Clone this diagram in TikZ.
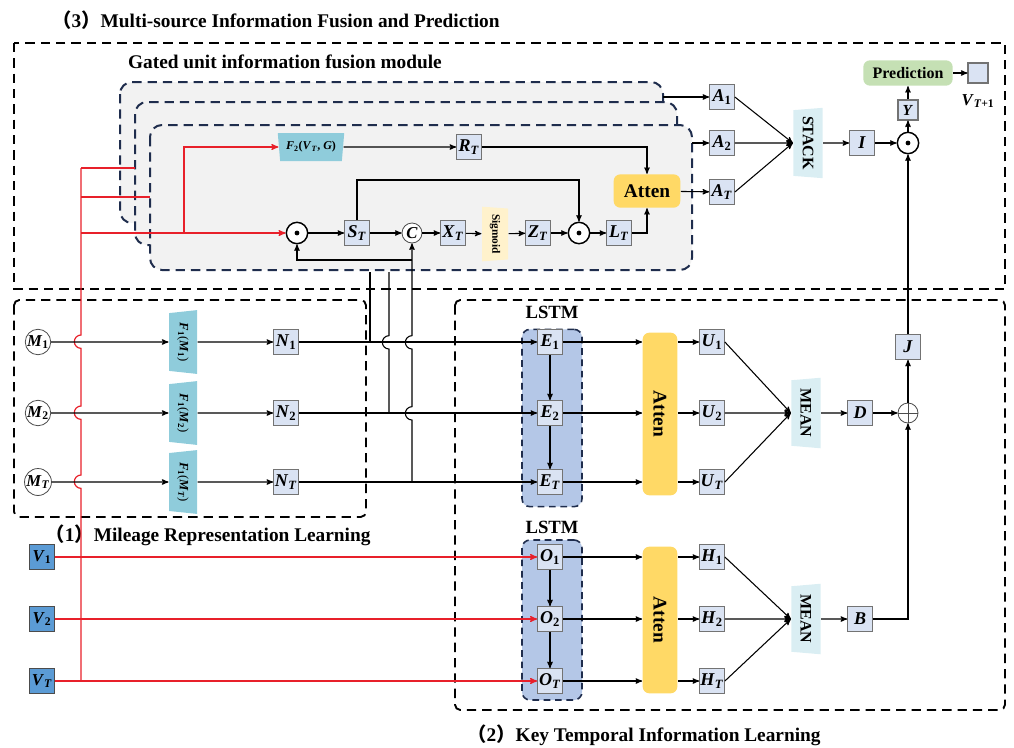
\documentclass[tikz,border=0pt]{standalone}
\usepackage{fontspec}
\setmainfont{Liberation Serif}
\newfontfamily\cjk{Noto Sans CJK SC}
\usepackage{tikz}
\usetikzlibrary{positioning}
\usetikzlibrary{arrows,calc,shapes.geometric}
\definecolor{boxblue}{HTML}{DAE3F3}
\definecolor{trapblue}{HTML}{8FCCDB}
\definecolor{paleblue}{HTML}{DAEEF3}
\definecolor{attyellow}{HTML}{FFD966}
\definecolor{sigyellow}{HTML}{FFF2CC}
\definecolor{predgreen}{HTML}{C5E0B4}
\definecolor{lstmblue}{HTML}{B4C7E7}
\definecolor{vblue}{HTML}{5B9BD5}
\definecolor{navy}{HTML}{1F2D4D}
\definecolor{layergray}{HTML}{F2F2F2}
\definecolor{wirered}{HTML}{E8202A}
\newcommand{\vx}[2]{\textbf{\textit{#1}\textsubscript{#2}}}
\newcommand{\sT}{\textit{T}}
\newcommand{\lp}{{\cjk （}}
\newcommand{\rp}{{\cjk ）}}
\tikzstyle{ttl}=[font=\fontsize{14.5}{16}\selectfont\bfseries,inner sep=0pt]
\tikzstyle{lab}=[font=\fontsize{14}{16}\selectfont\bfseries,inner sep=0pt]
\tikzstyle{sect}=[draw=black,line width=1.4pt,dash pattern=on 7pt off 4.5pt]
\tikzstyle{layer}=[draw=navy,fill=layergray,line width=1.5pt,dash pattern=on 7pt off 4.5pt,rounded corners=9pt]
\tikzstyle{vb}=[rectangle,draw=black!55,fill=boxblue,minimum size=18.5pt,inner sep=0pt,font=\fontsize{13.5}{13.5}\selectfont]
\tikzstyle{vbs}=[vb,minimum size=15pt,font=\fontsize{11.5}{11.5}\selectfont]
\tikzstyle{vin}=[vb,fill=vblue,draw=black!70,font=\fontsize{12.5}{12.5}\selectfont]
\tikzstyle{mc}=[circle,draw=black!70,line width=0.6pt,fill=white,minimum size=18pt,inner sep=0pt,font=\fontsize{12.5}{12.5}\selectfont]
\tikzstyle{cat}=[circle,draw=black!70,line width=0.6pt,fill=white,minimum size=15pt,inner sep=0pt,font=\fontsize{12.5}{12.5}\selectfont]
\tikzstyle{gate}=[circle,draw,line width=1.1pt,fill=white,minimum size=16pt,inner sep=0pt,
    path picture={\fill[black] (path picture bounding box.center) circle (1.8pt);}]
\tikzstyle{addc}=[circle,draw=black!70,line width=0.6pt,fill=white,minimum size=15pt,inner sep=0pt,
    path picture={\draw[black!70,line width=0.6pt] (path picture bounding box.north)--(path picture bounding box.south)
      (path picture bounding box.west)--(path picture bounding box.east);}]
\tikzstyle{ftrap}=[trapezium,trapezium stretches=true,trapezium angle=100,fill=trapblue,inner sep=0pt,
    rotate=-90,minimum width=48pt,minimum height=21pt,font=\fontsize{9.5}{9.5}\selectfont]
\tikzstyle{htrap}=[trapezium,trapezium stretches=true,trapezium angle=100,fill=trapblue,inner sep=0pt,
    minimum width=50pt,minimum height=21pt,font=\fontsize{9}{9}\selectfont]
\tikzstyle{ptrap}=[ftrap,fill=paleblue,minimum width=53pt,minimum height=22pt,font=\fontsize{12}{12}\selectfont\bfseries]
\tikzstyle{strap}=[ftrap,trapezium angle=82,fill=sigyellow,minimum width=41pt,minimum height=19.5pt,font=\fontsize{8.5}{8.5}\selectfont\bfseries]
\tikzstyle{atth}=[rectangle,rounded corners=5pt,fill=attyellow,minimum width=50pt,minimum height=25pt,font=\fontsize{14.5}{14.5}\selectfont\bfseries]
\tikzstyle{attv}=[atth,rotate=-90,minimum height=26pt]
\tikzstyle{pred}=[rectangle,rounded corners=5pt,fill=predgreen,minimum width=67pt,minimum height=19pt,font=\fontsize{12}{12}\selectfont\bfseries]
\tikzstyle{lstm}=[rectangle,rounded corners=6pt,draw=navy,fill=lstmblue,line width=1.2pt,dash pattern=on 5pt off 3.5pt,minimum width=45pt]
\tikzstyle{wire}=[draw=wirered,line width=0.9pt]

\begin{document}
\begin{tikzpicture}[x=0.75pt,y=-0.75pt,>=stealth',line width=0.8pt]
\useasboundingbox (0,0) rectangle (1014,747);

% (3) fusion and prediction
\node[ttl] (t3) at (276,20) {\lp 3\rp Multi-source Information Fusion and Prediction};
\draw[sect] (14,43) rectangle (1005,289);
\node[ttl] (tg) at (285,62) {Gated unit information fusion module};
\draw[layer] (120,82) rectangle (663,223);
\draw[layer] (135,102) rectangle (677,245);
\draw[layer] (150,125) rectangle (692,270);

\node[htrap] (f2) at (311,147) {\textbf{\textit{F}\textsubscript{2}(\textit{V}\textsubscript{\textit{T}}, \textit{G})}};
\node[vb] (rt) at (469,147) {\vx{R}{\sT}};
\node[gate] (g1) at (297,233) {};
\node[vb] (st) at (357,233) {\vx{S}{\sT}};
\node[cat] (cc) at (412,233) {\textbf{\textit{C}}};
\node[vb] (xt) at (453,233) {\vx{X}{\sT}};
\node[strap] (sig) at (495,234) {Sigmoid};
\node[vb] (zt) at (538,233) {\vx{Z}{\sT}};
\node[gate] (g2) at (579,233) {};
\node[vb] (lt) at (619,233) {\vx{L}{\sT}};
\node[atth] (att) at (647,191) {Atten};

\node[vb] (a1) at (722,97) {\vx{A}{1}};
\node[vb] (a2) at (722,143) {\vx{A}{2}};
\node[vb] (a3) at (722,192) {\vx{A}{\sT}};
\node[ptrap] (stack) at (808,143) {STACK};
\node[vb] (ii) at (862,143) {\textbf{\textit{I}}};
\node[gate] (g3) at (908,143) {};
\node[vbs] (yy) at (908,110) {\textbf{\textit{Y}}};
\node[pred] (pred) at (908,73) {Prediction};
\node[vbs] (vnext) at (978,73) {};
\node[font=\fontsize{12.5}{12.5}\selectfont] (vlab) at (978,101) {\vx{V}{\sT+1}};

% (1) mileage representation
\draw[sect,rounded corners=4pt] (14,300) rectangle (366,517);
\node[ttl] (t1) at (208,535) {\lp 1\rp Mileage Representation Learning};
\node[mc] (m1) at (38,342) {\vx{M}{1}};
\node[mc] (m2) at (38,413) {\vx{M}{2}};
\node[mc] (m3) at (38,482) {\vx{M}{\sT}};
\node[ftrap] (fm1) at (183,342) {\vx{F}{1}(\vx{M}{1})};
\node[ftrap] (fm2) at (183,413) {\vx{F}{1}(\vx{M}{2})};
\node[ftrap] (fm3) at (183,482) {\vx{F}{1}(\vx{M}{\sT})};
\node[vb] (n1) at (286,342) {\vx{N}{1}};
\node[vb] (n2) at (286,413) {\vx{N}{2}};
\node[vb] (n3) at (286,482) {\vx{N}{\sT}};
\node[vin] (v1) at (42,557) {\vx{V}{1}};
\node[vin] (v2) at (42,619) {\vx{V}{2}};
\node[vin] (v3) at (42,681) {\vx{V}{\sT}};

% (2) key temporal information
\draw[sect,rounded corners=4pt] (455,300) rectangle (1005,710);
\node[ttl] (t2) at (644,735) {\lp 2\rp Key Temporal Information Learning};
\node[lstm,minimum height=133pt] (lstm1) at (552,418) {};
\node[lstm,minimum height=120pt] (lstm2) at (552,620) {};
\node[lab] at (552,312) {LSTM};
\node[lab] at (552,527) {LSTM};
\node[vb] (e1) at (550,342) {\vx{E}{1}};
\node[vb] (e2) at (550,413) {\vx{E}{2}};
\node[vb] (e3) at (550,482) {\vx{E}{\sT}};
\node[vb] (o1) at (550,557) {\vx{O}{1}};
\node[vb] (o2) at (550,619) {\vx{O}{2}};
\node[vb] (o3) at (550,681) {\vx{O}{\sT}};
\node[attv,minimum width=122pt] (att1) at (660,414) {Atten};
\node[attv,minimum width=110pt] (att2) at (660,620) {Atten};
\node[vb] (u1) at (712,342) {\vx{U}{1}};
\node[vb] (u2) at (712,413) {\vx{U}{2}};
\node[vb] (u3) at (712,482) {\vx{U}{\sT}};
\node[vb] (h1) at (712,557) {\vx{H}{1}};
\node[vb] (h2) at (712,619) {\vx{H}{2}};
\node[vb] (h3) at (712,681) {\vx{H}{\sT}};
\node[ptrap] (mean1) at (806,413) {MEAN};
\node[ptrap] (mean2) at (806,619) {MEAN};
\node[vb] (dd) at (860,413) {\textbf{\textit{D}}};
\node[vb] (bb) at (860,619) {\textbf{\textit{B}}};
\node[addc] (add) at (908,413) {};
\node[vb] (jj) at (908,347) {\textbf{\textit{J}}};

% free ends
\coordinate (rtop) at (81,168);
\coordinate (l2in) at (135,168);
\coordinate (l3in) at (150,197);
\coordinate (l1out) at (663,97);
\coordinate (l3out) at (692,143);
\coordinate (n1up) at (370,272);
\coordinate (n2up) at (389,272);
\coordinate (fb) at (412,260);

% red wires
\draw[wire] (rtop) -- (81,335) arc[start angle=90,end angle=270,radius=5pt]
  -- (81,406) arc[start angle=90,end angle=270,radius=5pt]
  -- (81,475) arc[start angle=90,end angle=270,radius=5pt] -- (v3 -| rtop);
\draw[wire] (rtop) -- (l2in);
\draw[wire] (rtop |- l3in) -- (l3in);
\draw[wire,->] (rtop |- g1) -- (g1);
\draw[wire,->] (184,233) |- (f2);
\draw[wire,->] (v1) -- (o1);
\draw[wire,->] (v2) -- (o2);
\draw[wire,->] (v3) -- (o3);

% mileage rows
\draw[->] (m1) -- (fm1);
\draw[->] (m2) -- (fm2);
\draw[->] (m3) -- (fm3);
\draw[->] (fm1) -- (n1);
\draw[->] (fm2) -- (n2);
\draw[->] (fm3) -- (n3);
\draw[->] (n1) -- (e1);
\draw[->] (n2) -- (e2);
\draw[->] (n3) -- (e3);
\draw (n1up |- n1) -- (n1up);
\draw (n2up |- n2) -- (389,349) arc[start angle=270,end angle=90,radius=5pt] -- (n2up);
\draw[->] (cc |- n3) -- (412,420) arc[start angle=270,end angle=90,radius=5pt]
  -- (412,349) arc[start angle=270,end angle=90,radius=5pt] -- (cc);
\draw[->] (fb) -| (g1);

% gated unit
\draw[->] (f2) -- (rt);
\draw[->] (rt) -| (att);
\draw[->] (g1) -- (st);
\draw[->] (st) -- (cc);
\draw[->] (cc) -- (xt);
\draw[->] (xt) -- (sig);
\draw[->] (sig) -- (zt);
\draw[->] (zt) -- (g2);
\draw[->] (g2) -- (lt);
\draw[->] (lt) -| (att);
\draw[->] (st) |- (470,180) -| (g2);
\draw[->] (l1out) -- (a1);
\draw[->] (l3out) -- (a2);
\draw[->] (att) -- (a3);
\draw[->] (a1.east) -- (stack.south);
\draw[->] (a2.east) -- (stack.south);
\draw[->] (a3.east) -- (stack.south);
\draw[->] (stack) -- (ii);
\draw[->] (ii) -- (g3);
\draw[->] (g3) -- (yy);
\draw[->] (yy) -- (pred);
\draw[->] (pred) -- (vnext);

% temporal part
\draw[->] (e1) -- (e2);
\draw[->] (e2) -- (e3);
\draw[->] (o1) -- (o2);
\draw[->] (o2) -- (o3);
\draw[->] (e1) -- (e1 -| att1.south);
\draw[->] (e2) -- (e2 -| att1.south);
\draw[->] (e3) -- (e3 -| att1.south);
\draw[->] (o1) -- (o1 -| att2.south);
\draw[->] (o2) -- (o2 -| att2.south);
\draw[->] (o3) -- (o3 -| att2.south);
\draw[->] (u1 -| att1.north) -- (u1);
\draw[->] (u2 -| att1.north) -- (u2);
\draw[->] (u3 -| att1.north) -- (u3);
\draw[->] (h1 -| att2.north) -- (h1);
\draw[->] (h2 -| att2.north) -- (h2);
\draw[->] (h3 -| att2.north) -- (h3);
\draw[->] (u1.east) -- (mean1.south);
\draw[->] (u2.east) -- (mean1.south);
\draw[->] (u3.east) -- (mean1.south);
\draw[->] (h1.east) -- (mean2.south);
\draw[->] (h2.east) -- (mean2.south);
\draw[->] (h3.east) -- (mean2.south);
\draw[->] (mean1) -- (dd);
\draw[->] (mean2) -- (bb);
\draw[->] (dd) -- (add);
\draw[->] (bb) -| (add);
\draw[->] (add) -- (jj);
\draw[->] (jj) -- (g3);
\end{tikzpicture}
\end{document}
